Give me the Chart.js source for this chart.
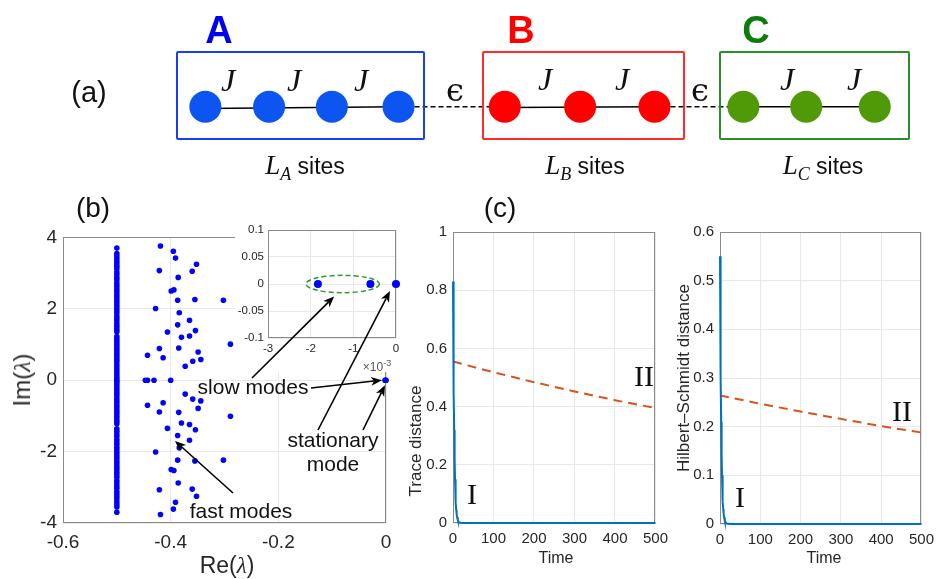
<!DOCTYPE html>
<html><head><meta charset="utf-8">
<script src="https://cdn.jsdelivr.net/npm/chart.js@4.4.1/dist/chart.umd.min.js"></script>
<style>
html,body{margin:0;padding:0;background:#fff;}
#fig{position:relative;width:941px;height:579px;overflow:hidden;font-family:"Liberation Sans",Arial,sans-serif;color:#111;}
canvas{position:absolute;}
.t{position:absolute;transform:translate(-50%,-50%);white-space:nowrap;line-height:1;}
.rot{transform:translate(-50%,-50%) rotate(-90deg);}
.box{position:absolute;border:2px solid;border-radius:2px;box-sizing:border-box;}
.ser{font-family:"Liberation Serif","Times New Roman",serif;}
.it{font-style:italic;}
.big{font-weight:bold;font-size:38px;}
.ann{font-size:21px;color:#111;}
</style></head>
<body>
<div id="fig">
  <canvas id="cA" width="941" height="200" style="left:0px;top:0px"></canvas>
  <canvas id="cB" width="400" height="359" style="left:0px;top:220px"></canvas>
  <canvas id="cT" width="275" height="364" style="left:400px;top:215px"></canvas>
  <canvas id="cH" width="271" height="364" style="left:670px;top:215px"></canvas>
  <canvas id="cI" width="200" height="230" style="left:220px;top:212px"></canvas>

  <!-- (a) schematic boxes and labels -->
  <div class="box" style="left:176px;top:51px;width:249px;height:89px;border-color:#1a3cff"></div>
  <div class="box" style="left:482px;top:51px;width:203px;height:89px;border-color:#ff2a2a"></div>
  <div class="box" style="left:719px;top:51px;width:191px;height:89px;border-color:#2a8f2a"></div>
  <div class="t" style="left:89px;top:92px;font-size:29px">(a)</div>
  <div class="t big" style="left:219px;top:30px;color:#0000f0">A</div>
  <div class="t big" style="left:521px;top:30px;color:#ff0000">B</div>
  <div class="t big" style="left:756px;top:30px;color:#0b7d0b">C</div>
  <div class="t ser it" style="left:228px;top:80px;font-size:32px">J</div>
  <div class="t ser it" style="left:294px;top:80px;font-size:32px">J</div>
  <div class="t ser it" style="left:361px;top:80px;font-size:32px">J</div>
  <div class="t ser it" style="left:545px;top:79px;font-size:32px">J</div>
  <div class="t ser it" style="left:622px;top:79px;font-size:32px">J</div>
  <div class="t ser it" style="left:787px;top:79px;font-size:32px">J</div>
  <div class="t ser it" style="left:854px;top:79px;font-size:32px">J</div>
  <div class="t" style="left:455px;top:90px;font-size:32px;font-family:'DejaVu Serif',serif">ϵ</div>
  <div class="t" style="left:700px;top:90px;font-size:32px;font-family:'DejaVu Serif',serif">ϵ</div>
  <div class="t" style="left:305px;top:165px"><span class="ser it" style="font-size:27px">L</span><span class="ser it" style="font-size:18px;position:relative;top:6px">A</span><span style="font-size:23px"> sites</span></div>
  <div class="t" style="left:585px;top:165px"><span class="ser it" style="font-size:27px">L</span><span class="ser it" style="font-size:18px;position:relative;top:6px">B</span><span style="font-size:23px"> sites</span></div>
  <div class="t" style="left:823px;top:165px"><span class="ser it" style="font-size:27px">L</span><span class="ser it" style="font-size:18px;position:relative;top:6px">C</span><span style="font-size:23px"> sites</span></div>

  <!-- (b) labels -->
  <div class="t" style="left:93px;top:208px;font-size:28px">(b)</div>
  <div class="t" style="left:227px;top:565px;font-size:23px;color:#262626">Re(<span class="ser it">λ</span>)</div>
  <div class="t rot" style="left:22px;top:380px;font-size:24px;color:#262626">Im(<span class="ser it">λ</span>)</div>
  <div class="t ann" style="left:253px;top:386px">slow modes</div>
  <div class="t ann" style="left:333px;top:452px;text-align:center;line-height:24px">stationary<br>mode</div>
  <div class="t ann" style="left:241px;top:510px">fast modes</div>
  <div class="t" style="left:377px;top:366px;font-size:12px;color:#555">×10<sup style="font-size:9px">-3</sup></div>

  <!-- (c) labels -->
  <div class="t" style="left:500px;top:208px;font-size:28px">(c)</div>
  <div class="t rot" style="left:415px;top:441px;font-size:17px;color:#262626">Trace distance</div>
  <div class="t rot" style="left:683px;top:378px;font-size:17px;color:#262626">Hilbert–Schmidt distance</div>
  <div class="t" style="left:556px;top:558px;font-size:16px;color:#262626">Time</div>
  <div class="t" style="left:824px;top:558px;font-size:16px;color:#262626">Time</div>
  <div class="t ser" style="left:644px;top:376px;font-size:30px">II</div>
  <div class="t ser" style="left:472px;top:494px;font-size:30px">I</div>
  <div class="t ser" style="left:902px;top:411px;font-size:30px">II</div>
  <div class="t ser" style="left:740px;top:497px;font-size:30px">I</div>
</div>
<script>
// ---------- (a) chain schematic ----------
const chainY = 108;
const sitesA = [196, 262, 327, 396];
const sitesB = [506, 584, 661];
const sitesC = [753, 818, 889];

// ---------- (b) spectrum ----------
const colRe = -0.5;
const colIm = [3.70, 3.55, 3.48, 3.41, 3.33, 3.26, 3.19, 3.12, 3.03, 2.96, 2.88, 2.81, 2.72, 2.65, 2.58, 2.51, 2.44, 2.37, 2.30, 2.23, 2.16, 2.09, 2.02, 1.95, 1.88, 1.80, 1.73, 1.66, 1.58, 1.51, 1.43, 1.36, 1.22, 1.15, 1.08, 1.01, 0.94, 0.87, 0.80, 0.73, 0.66, 0.59, 0.52, 0.44, 0.37, 0.30, 0.23, 0.16, 0.09, 0.03,
  -0.03, -0.09, -0.16, -0.23, -0.30, -0.37, -0.44, -0.52, -0.59, -0.66, -0.73, -0.80, -0.87, -0.94, -1.01, -1.08, -1.15, -1.22, -1.36, -1.43, -1.51, -1.58, -1.66, -1.73, -1.80, -1.88, -1.95, -2.02, -2.09, -2.16, -2.23, -2.30, -2.37, -2.44, -2.51, -2.58, -2.65, -2.72, -2.81, -2.88, -2.96, -3.03, -3.12, -3.19, -3.26, -3.33, -3.41, -3.48, -3.55, -3.70];
const fastRe = [-0.419, -0.395, -0.391, -0.352, -0.421, -0.360, -0.386, -0.399, -0.394, -0.387, -0.355, -0.302, -0.428, -0.384, -0.365, -0.387, -0.354, -0.406, -0.380, -0.365, -0.289, -0.421, -0.385, -0.443, -0.414, -0.349, -0.359, -0.344, -0.373,
  -0.447, -0.443, -0.431, -0.400,
  -0.419, -0.395, -0.391, -0.352, -0.421, -0.360, -0.386, -0.399, -0.394, -0.387, -0.355, -0.302, -0.428, -0.384, -0.365, -0.387, -0.354, -0.406, -0.380, -0.365, -0.289, -0.421, -0.385, -0.443, -0.414, -0.349, -0.359, -0.344, -0.373];
const fastIm = [3.76, 3.61, 3.42, 3.25, 3.07, 3.05, 2.88, 2.50, 2.53, 2.24, 2.26, 2.24, 2.01, 1.89, 1.68, 1.55, 1.39, 1.35, 1.20, 1.24, 1.01, 0.89, 0.90, 0.70, 0.63, 0.79, 0.53, 0.58, 0.39,
  0, 0, 0, 0,
  -3.76, -3.61, -3.42, -3.25, -3.07, -3.05, -2.88, -2.50, -2.53, -2.24, -2.26, -2.24, -2.01, -1.89, -1.68, -1.55, -1.39, -1.35, -1.20, -1.24, -1.01, -0.89, -0.90, -0.70, -0.63, -0.79, -0.53, -0.58, -0.39];
const slowRe = [-0.00183, -0.00060, 0];
const slowIm = [0, 0, 0];
const insetSlowRe = [-1.83, -0.60];   // in units of 1e-3
const insetSlowIm = [0, 0];
const insetStatRe = [0];
const insetStatIm = [0];
const mainXTicks = [-0.6, -0.4, -0.2, 0];
const mainXLabels = ['-0.6', '-0.4', '-0.2', '0'];
const mainYTicks = [-4, -2, 0, 2, 4];
const mainYLabels = ['-4', '-2', '0', '2', '4'];
const insetXTicks = [-3, -2, -1, 0];
const insetXLabels = ['-3', '-2', '-1', '0'];
const insetYTicks = [-0.1, -0.05, 0, 0.05, 0.1];
const insetYLabels = ['-0.1', '-0.05', '0', '0.05', '0.1'];

// ---------- (c) distances ----------
const tFast = [0, 1, 2, 3, 4, 5, 6, 7, 8, 9, 10, 12, 14, 17, 25, 500];
const traceFast = [0.83, 0.62, 0.45, 0.32, 0.22, 0.15, 0.10, 0.07, 0.045, 0.03, 0.02, 0.009, 0.004, 0.001, 0, 0];
const hsFast = [0.55, 0.41, 0.30, 0.21, 0.145, 0.10, 0.068, 0.046, 0.031, 0.021, 0.014, 0.006, 0.003, 0.001, 0, 0];
const tSlow = [0, 100, 200, 300, 400, 500];
const traceSlow = [0.555, 0.518, 0.484, 0.452, 0.422, 0.395];
const hsSlow = [0.264, 0.247, 0.231, 0.216, 0.201, 0.188];
const timeTicks = [0, 100, 200, 300, 400, 500];
const timeLabels = ['0', '100', '200', '300', '400', '500'];
const traceTicks = [0, 0.2, 0.4, 0.6, 0.8, 1];
const traceLabels = ['0', '0.2', '0.4', '0.6', '0.8', '1'];
const hsTicks = [0, 0.1, 0.2, 0.3, 0.4, 0.5, 0.6];
const hsLabels = ['0', '0.1', '0.2', '0.3', '0.4', '0.5', '0.6'];

// ---------- helpers ----------
const pts = (xs, ys) => xs.map((x, i) => ({x: x, y: ys[i]}));
const FONT = '"Liberation Sans", Arial, sans-serif';
const TICKC = '#262626';
const GRID = '#e8e8e8';
Chart.defaults.animation = false;
Chart.defaults.font.family = FONT;

const boxPlugin = {
  id: 'box',
  beforeDatasetsDraw(chart, args, opts) {
    if (!opts || !opts.color) return;
    const a = chart.chartArea, c = chart.ctx;
    c.save();
    c.strokeStyle = opts.color; c.lineWidth = 1;
    c.strokeRect(Math.round(a.left) + 0.5, Math.round(a.top) + 0.5, Math.round(a.right - a.left) - 1, Math.round(a.bottom - a.top) - 1);
    c.restore();
  }
};
Chart.register(boxPlugin);

function axis(ticks, labels, min, max, size, isY, fontSize, pad) {
  return {
    type: 'linear', min: min, max: max,
    afterBuildTicks: s => { s.ticks = ticks.map(v => ({value: v})); },
    afterFit: s => { if (isY) s.width = size; else s.height = size; },
    grid: {color: GRID, drawTicks: false, lineWidth: 1},
    border: {display: false},
    ticks: {autoSkip: false, maxRotation: 0, color: TICKC, padding: pad, font: {size: fontSize, family: FONT},
            callback: (v, i) => labels[i]}
  };
}

function drawArrow(ctx, x0, y0, x1, y1) {
  const ang = Math.atan2(y1 - y0, x1 - x0);
  const L = 11, W = 4.5, back = 8;
  ctx.save();
  ctx.strokeStyle = '#000'; ctx.fillStyle = '#000'; ctx.lineWidth = 1.6;
  ctx.beginPath();
  ctx.moveTo(x0, y0);
  ctx.lineTo(x1 - Math.cos(ang) * back, y1 - Math.sin(ang) * back);
  ctx.stroke();
  ctx.translate(x1, y1); ctx.rotate(ang);
  ctx.beginPath();
  ctx.moveTo(0, 0); ctx.lineTo(-L, -W); ctx.lineTo(-back, 0); ctx.lineTo(-L, W); ctx.closePath();
  ctx.fill();
  ctx.restore();
}

// ---------- (a) schematic chart ----------
new Chart(document.getElementById('cA'), {
  type: 'scatter',
  data: {datasets: [
    {data: pts(sitesA, sitesA.map(() => chainY)), backgroundColor: '#0c55f0', borderWidth: 0, pointRadius: 16, order: 0},
    {data: pts(sitesB, sitesB.map(() => chainY)), backgroundColor: '#ff0000', borderWidth: 0, pointRadius: 16, order: 0},
    {data: pts(sitesC, sitesC.map(() => chainY)), backgroundColor: '#4f9a06', borderWidth: 0, pointRadius: 16, order: 0},
    {data: pts([sitesA[0], sitesA[sitesA.length - 1]], [chainY + 2, chainY]), showLine: true, borderColor: '#000', borderWidth: 1.5, pointRadius: 0, order: 1},
    {data: pts([sitesB[0], sitesB[sitesB.length - 1]], [chainY + 1, chainY]), showLine: true, borderColor: '#000', borderWidth: 1.5, pointRadius: 0, order: 1},
    {data: pts([sitesC[0], sitesC[sitesC.length - 1]], [chainY, chainY]), showLine: true, borderColor: '#000', borderWidth: 1.5, pointRadius: 0, order: 1},
    {data: pts([sitesA[sitesA.length - 1], sitesB[0]], [chainY, chainY]), showLine: true, borderColor: '#000', borderWidth: 1.5, borderDash: [5, 3], pointRadius: 0, order: 1},
    {data: pts([sitesB[sitesB.length - 1], sitesC[0]], [chainY, chainY]), showLine: true, borderColor: '#000', borderWidth: 1.5, borderDash: [5, 3], pointRadius: 0, order: 1}
  ]},
  options: {
    responsive: false, layout: {padding: 0},
    plugins: {legend: {display: false}, tooltip: {enabled: false}},
    scales: {x: {display: false, min: 0, max: 941}, y: {display: false, min: 0, max: 200, reverse: true}}
  }
});

// ---------- (b) main spectrum chart ----------
const mainChart = new Chart(document.getElementById('cB'), {
  type: 'scatter',
  data: {datasets: [
    {data: pts(colIm.map(() => colRe), colIm), backgroundColor: '#0000ff', borderWidth: 0, pointRadius: 2.8, clip: false},
    {data: pts(fastRe, fastIm), backgroundColor: '#0000ff', borderWidth: 0, pointRadius: 2.8, clip: false},
    {data: pts(slowRe, slowIm), backgroundColor: '#0000ff', borderWidth: 0, pointRadius: 2.8, clip: false}
  ]},
  options: {
    responsive: false,
    layout: {padding: {left: 0, top: 17, right: 14, bottom: 0}},
    plugins: {legend: {display: false}, tooltip: {enabled: false}, box: {color: '#8a8a8a'}},
    scales: {
      x: axis(mainXTicks, mainXLabels, -0.6, 0, 56, false, 19, 8),
      y: axis(mainYTicks, mainYLabels, -4, 4, 63, true, 19, 6)
    }
  },
  plugins: [{
    id: 'fastArrow',
    afterDraw(chart) {
      const sx = chart.scales.x, sy = chart.scales.y;
      drawArrow(chart.ctx, 233, 493 - 220, sx.getPixelForValue(-0.392), sy.getPixelForValue(-1.70));
    }
  }]
});

// ---------- (b) inset chart ----------
const IX = 220, IY = 212, MX = 0, MY = 220;
new Chart(document.getElementById('cI'), {
  type: 'scatter',
  data: {datasets: [
    {data: pts(insetSlowRe, insetSlowIm), backgroundColor: '#0000ff', borderWidth: 0, pointRadius: 4, clip: false},
    {data: pts(insetStatRe, insetStatIm), backgroundColor: '#0000ff', borderWidth: 0, pointRadius: 4, clip: false}
  ]},
  options: {
    responsive: false,
    layout: {padding: {left: 0, top: 18, right: 24, bottom: 84}},
    plugins: {legend: {display: false}, tooltip: {enabled: false}, box: {color: '#8a8a8a'}},
    scales: {
      x: axis(insetXTicks, insetXLabels, -3, 0, 20, false, 11.5, 4),
      y: axis(insetYTicks, insetYLabels, -0.1, 0.1, 48, true, 11.5, 4)
    }
  },
  plugins: [{
    id: 'insetDeco',
    beforeDraw(chart) {
      const c = chart.ctx;
      c.save(); c.fillStyle = '#fff';
      c.fillRect(235 - IX, 0, 405 - 235, 372 - IY);
      c.restore();
    },
    afterDatasetsDraw(chart) {
      const sx = chart.scales.x, sy = chart.scales.y, c = chart.ctx;
      // dashed ellipse around slow modes
      const cx = sx.getPixelForValue(-1.25), cy = sy.getPixelForValue(0);
      const rx = Math.abs(sx.getPixelForValue(-1.25 + 0.86) - cx);
      const ry = Math.abs(sy.getPixelForValue(0.016) - cy);
      c.save();
      c.strokeStyle = '#2a9a2a'; c.lineWidth = 1.5; c.setLineDash([5, 3]);
      c.beginPath(); c.ellipse(cx, cy, rx, ry, 0, 0, Math.PI * 2); c.stroke();
      c.restore();
    },
    afterDraw(chart) {
      const sx = chart.scales.x, sy = chart.scales.y, c = chart.ctx;
      const mx = mainChart.scales.x, my = mainChart.scales.y;
      const mainOx = mx.getPixelForValue(0) + MX - IX, mainOy = my.getPixelForValue(0) + MY - IY;
      // slow modes -> ellipse
      drawArrow(c, 252 - IX, 378 - IY, sx.getPixelForValue(-1.45), sy.getPixelForValue(-0.023));
      // stationary mode -> inset origin
      drawArrow(c, 318 - IX, 430 - IY, sx.getPixelForValue(0) - 6, sy.getPixelForValue(0) + 7);
      // slow modes -> main origin
      drawArrow(c, 311 - IX, 388 - IY, mainOx - 4, mainOy);
      // stationary mode -> main origin
      drawArrow(c, 363 - IX, 430 - IY, mainOx - 1, mainOy + 5);
    }
  }]
});

// ---------- (c) trace distance ----------
new Chart(document.getElementById('cT'), {
  type: 'scatter',
  data: {datasets: [
    {data: pts(tFast, traceFast), showLine: true, borderColor: '#0072BD', borderWidth: 2, pointRadius: 0, clip: false},
    {data: pts(tSlow, traceSlow), showLine: true, borderColor: '#D95319', borderWidth: 2, borderDash: [9, 6], pointRadius: 0, clip: false}
  ]},
  options: {
    responsive: false,
    layout: {padding: {left: 0, top: 17, right: 17, bottom: 0}},
    plugins: {legend: {display: false}, tooltip: {enabled: false}, box: {color: '#8a8a8a'}},
    scales: {
      x: axis(timeTicks, timeLabels, 0, 500, 56, false, 15, 7),
      y: axis(traceTicks, traceLabels, 0, 1, 53, true, 15, 6)
    }
  }
});

// ---------- (c) Hilbert-Schmidt distance ----------
new Chart(document.getElementById('cH'), {
  type: 'scatter',
  data: {datasets: [
    {data: pts(tFast, hsFast), showLine: true, borderColor: '#0072BD', borderWidth: 2, pointRadius: 0, clip: false},
    {data: pts(tSlow, hsSlow), showLine: true, borderColor: '#D95319', borderWidth: 2, borderDash: [9, 6], pointRadius: 0, clip: false}
  ]},
  options: {
    responsive: false,
    layout: {padding: {left: 0, top: 17, right: 14, bottom: 0}},
    plugins: {legend: {display: false}, tooltip: {enabled: false}, box: {color: '#8a8a8a'}},
    scales: {
      x: axis(timeTicks, timeLabels, 0, 500, 55, false, 15, 7),
      y: axis(hsTicks, hsLabels, 0, 0.6, 50, true, 15, 6)
    }
  }
});
</script>
</body></html>
